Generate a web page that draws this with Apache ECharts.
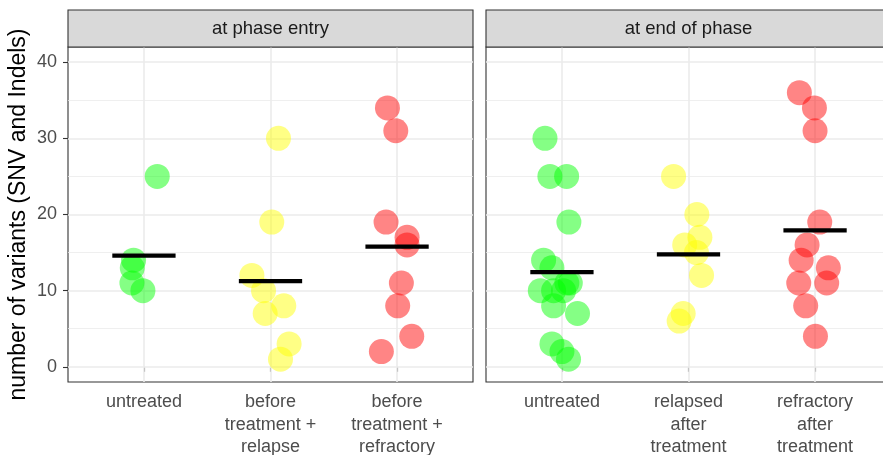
<!DOCTYPE html>
<html><head><meta charset="utf-8">
<script src="https://cdn.jsdelivr.net/npm/echarts@6/dist/echarts.min.js"></script>
<style>html,body{margin:0;padding:0;background:#fff}#c{width:883px;height:455px}</style>
</head><body><div id="c"></div>
<script>
// ---- data ----
const panelTitles = ['at phase entry', 'at end of phase'];
const entryCategories = ['untreated', 'before\ntreatment +\nrelapse', 'before\ntreatment +\nrefractory'];
const endCategories = ['untreated', 'relapsed\nafter\ntreatment', 'refractory\nafter\ntreatment'];
const yTicks = [0, 10, 20, 30, 40];
const yMinorTicks = [5, 15, 25, 35];
const yTitle = 'number of variants (SNV and Indels)';

// values and horizontal jitter (in category units)
const entryUntreated = [25, 14, 13, 11, 10];
const entryUntreatedJitter = [0.105, -0.082, -0.092, -0.095, -0.008];
const entryRelapse = [30, 19, 12, 10, 8, 7, 3, 1];
const entryRelapseJitter = [0.063, 0.01, -0.147, -0.055, 0.105, -0.042, 0.147, 0.079];
const entryRefractory = [34, 31, 19, 17, 16, 11, 8, 4, 2];
const entryRefractoryJitter = [-0.076, -0.01, -0.087, 0.079, 0.079, 0.034, 0.005, 0.116, -0.124];

const endUntreated = [30, 25, 25, 19, 14, 13, 11, 11, 10, 10, 10, 8, 7, 3, 2, 1];
const endUntreatedJitter = [-0.134, -0.095, 0.037, 0.055, -0.145, -0.079, 0.066, 0.039, -0.171, -0.066, 0.013, -0.066, 0.123, -0.079, 0.0, 0.052];
const endRelapsed = [25, 20, 17, 16, 15, 12, 7, 6];
const endRelapsedJitter = [-0.118, 0.066, 0.09, -0.03, 0.063, 0.103, -0.042, -0.074];
const endRefractory = [36, 34, 31, 19, 16, 14, 13, 11, 11, 8, 4];
const endRefractoryJitter = [-0.124, -0.005, 0.0, 0.037, -0.063, -0.11, 0.105, -0.129, 0.092, -0.074, 0.003];

const groupColors = ['rgba(0,255,0,0.6)', 'rgba(255,255,0,0.6)', 'rgba(255,0,0,0.6)'];

const panels = [
  { title: panelTitles[0], cats: entryCategories,
    groups: [[entryUntreated, entryUntreatedJitter], [entryRelapse, entryRelapseJitter], [entryRefractory, entryRefractoryJitter]] },
  { title: panelTitles[1], cats: endCategories,
    groups: [[endUntreated, endUntreatedJitter], [endRelapsed, endRelapsedJitter], [endRefractory, endRefractoryJitter]] }
];

// ---- layout ----
const FONT = 'Liberation Sans';
const gridBoxes = [
  { left: 68, top: 47, right: 410, bottom: 73 },
  { left: 486, top: 47, right: -8, bottom: 73 }
];
const STRIP_TOP = 10;

const grids = [], xAxes = [], yAxes = [], series = [], graphics = [];
const W = 883;
panels.forEach((p, pi) => {
  const g = gridBoxes[pi];
  grids.push({ left: g.left, top: g.top, right: g.right, bottom: g.bottom, show: true,
    backgroundColor: '#fff', borderColor: '#333333', borderWidth: 1.1, containLabel: false,
    outerBoundsMode: 'none' });
  const catTicks = p.cats.map((c, i) => i + 1);
  xAxes.push({ type: 'value', gridIndex: pi, min: 0.4, max: 3.6,
    axisLine: { show: false }, splitLine: { show: false },
    axisTick: { show: true, customValues: catTicks, length: 5, lineStyle: { color: '#333333', width: 1.1 } },
    axisLabel: { show: true, customValues: catTicks, margin: 9, fontSize: 18, lineHeight: 22.5,
      color: '#4D4D4D', fontFamily: FONT, align: 'center',
      formatter: v => p.cats[Math.round(v) - 1] || '' } });
  yAxes.push({ type: 'value', gridIndex: pi, min: -2, max: 42,
    axisLine: { show: false }, splitLine: { show: false },
    axisTick: { show: pi === 0, customValues: yTicks, length: 5, lineStyle: { color: '#333333', width: 1.1 } },
    axisLabel: { show: pi === 0, customValues: yTicks, margin: 11, fontSize: 18, color: '#4D4D4D', fontFamily: FONT },
    name: pi === 0 ? yTitle : '', nameLocation: 'middle', nameGap: 38, nameRotate: 90,
    nameTextStyle: { fontSize: 23, color: '#000', fontFamily: FONT } });

  // grid lines
  const gl = [];
  yTicks.forEach(v => gl.push({ yAxis: v, lineStyle: { color: '#EBEBEB', width: 1.6, type: 'solid' } }));
  yMinorTicks.forEach(v => gl.push({ yAxis: v, lineStyle: { color: '#EBEBEB', width: 0.8, type: 'solid' } }));
  catTicks.forEach(v => gl.push({ xAxis: v, lineStyle: { color: '#EBEBEB', width: 1.6, type: 'solid' } }));
  series.push({ type: 'scatter', xAxisIndex: pi, yAxisIndex: pi, data: [], z: 1, silent: true,
    markLine: { silent: true, symbol: ['none', 'none'], label: { show: false }, animation: false, z: 1, data: gl } });

  p.groups.forEach((grp, gi) => {
    const vals = grp[0], jit = grp[1];
    series.push({ type: 'scatter', xAxisIndex: pi, yAxisIndex: pi, z: 3,
      symbol: 'circle', symbolSize: 25,
      itemStyle: { color: groupColors[gi], borderWidth: 0 },
      data: vals.map((v, k) => [gi + 1 + jit[k], v]) });
  });
  p.groups.forEach((grp, gi) => {
    const vals = grp[0];
    const m = vals.reduce((a, b) => a + b, 0) / vals.length;
    series.push({ type: 'line', xAxisIndex: pi, yAxisIndex: pi, z: 5, symbol: 'none',
      lineStyle: { color: '#000', width: 4.2, cap: 'butt' },
      data: [[gi + 1 - 0.25, m], [gi + 1 + 0.25, m]] });
  });

  // strip
  const x0 = g.left, x1 = W - g.right;
  graphics.push({ type: 'rect', shape: { x: x0, y: STRIP_TOP, width: x1 - x0, height: g.top - STRIP_TOP },
    style: { fill: '#D9D9D9', stroke: '#333333', lineWidth: 1.1 }, z: 10 });
  graphics.push({ type: 'text', x: (x0 + x1) / 2, y: (STRIP_TOP + g.top) / 2, z: 11,
    style: { text: p.title, fontSize: 18.5, fill: '#1A1A1A', fontFamily: FONT, align: 'center', verticalAlign: 'middle' } });
});

const chart = echarts.init(document.getElementById('c'), null, { renderer: 'canvas' });
chart.setOption({
  animation: false,
  backgroundColor: '#fff',
  grid: grids, xAxis: xAxes, yAxis: yAxes, series: series, graphic: graphics
});
</script></body></html>
